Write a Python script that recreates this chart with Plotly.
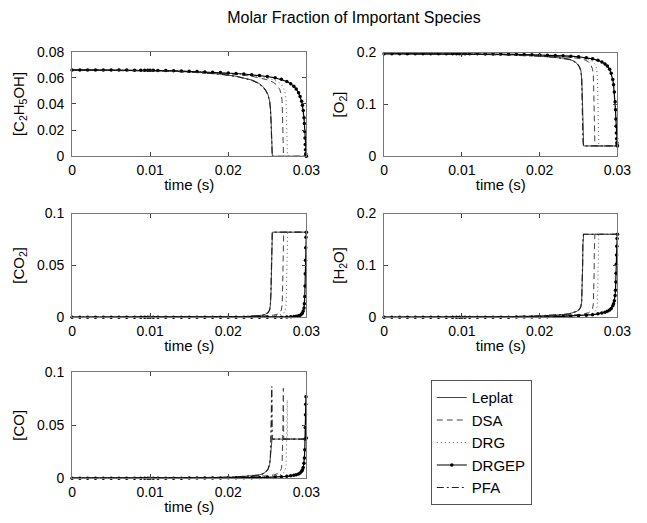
import plotly.graph_objects as go

# ---------------- data ----------------
mechanisms = ["Leplat", "DSA", "DRG", "DRGEP", "PFA"]

t_leplat = [0, 0.004, 0.008, 0.012, 0.016, 0.019, 0.021, 0.022, 0.023, 0.0238, 0.0244, 0.0248,
            0.0251, 0.0253, 0.0254, 0.02548, 0.02553, 0.02556, 0.0256, 0.02565, 0.03]
c2h5oh_leplat = [0.066, 0.0659, 0.0657, 0.0652, 0.0642, 0.0628, 0.0612, 0.0600, 0.0583, 0.0562, 0.0535, 0.0505,
                 0.0470, 0.0420, 0.0370, 0.0280, 0.0150, 0.005, 0.0, 0.0, 0.0]
o2_leplat = [0.198, 0.1978, 0.1975, 0.197, 0.1958, 0.1943, 0.1925, 0.1912, 0.1893, 0.187, 0.1835, 0.179,
             0.173, 0.165, 0.15, 0.12, 0.07, 0.035, 0.02, 0.02, 0.02]
co2_leplat = [0, 0, 0, 0.0001, 0.0002, 0.0003, 0.0005, 0.0007, 0.001, 0.0014, 0.002, 0.003,
              0.0045, 0.007, 0.012, 0.025, 0.05, 0.072, 0.082, 0.082, 0.082]
h2o_leplat = [0, 0.0001, 0.0003, 0.0006, 0.0012, 0.002, 0.003, 0.0038, 0.005, 0.0065, 0.0088, 0.0115,
              0.015, 0.02, 0.03, 0.055, 0.1, 0.14, 0.16, 0.16, 0.16]
co_leplat = [0, 0, 0.0001, 0.0002, 0.0004, 0.0007, 0.0011, 0.0015, 0.002, 0.0028, 0.004, 0.0058,
             0.0085, 0.013, 0.02, 0.03, 0.036, 0.037, 0.037, 0.037, 0.037]

t_pfa = [0, 0.004, 0.008, 0.012, 0.016, 0.019, 0.021, 0.022, 0.023, 0.0238, 0.0244, 0.0248,
         0.0251, 0.0253, 0.0254, 0.02547, 0.02552, 0.02555, 0.02558, 0.02563, 0.03]
c2h5oh_pfa = [0.066, 0.0659, 0.0657, 0.0652, 0.0641, 0.0627, 0.0611, 0.0599, 0.0582, 0.0560, 0.0533, 0.0503,
              0.0468, 0.0418, 0.0365, 0.0275, 0.0145, 0.005, 0.0, 0.0, 0.0]
o2_pfa = [0.198, 0.1978, 0.1975, 0.197, 0.1957, 0.1942, 0.1924, 0.1911, 0.1892, 0.1868, 0.1833, 0.1788,
          0.1728, 0.1648, 0.149, 0.118, 0.068, 0.034, 0.02, 0.02, 0.02]
co2_pfa = [0, 0, 0, 0.0001, 0.0002, 0.0003, 0.0005, 0.0007, 0.001, 0.0014, 0.002, 0.003,
           0.0046, 0.0072, 0.0125, 0.026, 0.051, 0.073, 0.082, 0.082, 0.082]
h2o_pfa = [0, 0.0001, 0.0003, 0.0006, 0.0012, 0.002, 0.003, 0.0039, 0.0051, 0.0066, 0.009, 0.0117,
           0.0152, 0.0205, 0.031, 0.056, 0.102, 0.142, 0.16, 0.16, 0.16]
co_pfa = [0, 0, 0.0001, 0.0002, 0.0004, 0.0007, 0.0011, 0.0015, 0.002, 0.0028, 0.004, 0.0058,
          0.0086, 0.0132, 0.021, 0.036, 0.061, 0.081, 0.087, 0.037, 0.037]

t_dsa = [0, 0.004, 0.008, 0.012, 0.016, 0.019, 0.021, 0.023, 0.024, 0.025, 0.0258, 0.0263, 0.0266,
         0.0268, 0.0269, 0.02695, 0.027, 0.02703, 0.02706, 0.0271, 0.03]
c2h5oh_dsa = [0.066, 0.0659, 0.0658, 0.0654, 0.0646, 0.0636, 0.0626, 0.0612, 0.0600, 0.0585, 0.0565, 0.0540,
              0.0510, 0.0470, 0.042, 0.035, 0.025, 0.012, 0.004, 0.0, 0.0]
o2_dsa = [0.198, 0.1978, 0.1976, 0.1972, 0.1963, 0.1952, 0.1940, 0.1922, 0.1908, 0.189, 0.186, 0.182,
          0.176, 0.168, 0.155, 0.13, 0.09, 0.045, 0.025, 0.02, 0.02]
co2_dsa = [0, 0, 0, 0.0001, 0.0002, 0.0003, 0.0004, 0.0007, 0.001, 0.0014, 0.002, 0.003, 0.0045,
           0.007, 0.012, 0.025, 0.05, 0.072, 0.08, 0.082, 0.082]
h2o_dsa = [0, 0.0001, 0.0002, 0.0005, 0.001, 0.0016, 0.0022, 0.0032, 0.004, 0.0052, 0.0068, 0.0088,
           0.012, 0.017, 0.026, 0.045, 0.085, 0.13, 0.155, 0.16, 0.16]
co_dsa = [0, 0, 0.0001, 0.0002, 0.0003, 0.0005, 0.0008, 0.0012, 0.0016, 0.0022, 0.003, 0.0042,
          0.006, 0.009, 0.014, 0.025, 0.05, 0.075, 0.085, 0.037, 0.037]

t_drg = [0, 0.004, 0.008, 0.012, 0.016, 0.019, 0.021, 0.023, 0.0245, 0.0255, 0.0263, 0.0268, 0.0271,
         0.0273, 0.0274, 0.02745, 0.0275, 0.02753, 0.02756, 0.0276, 0.03]
c2h5oh_drg = [0.066, 0.0659, 0.0658, 0.0655, 0.0648, 0.064, 0.0631, 0.0619, 0.0605, 0.059, 0.0572, 0.055,
              0.052, 0.048, 0.043, 0.036, 0.026, 0.013, 0.004, 0.0, 0.0]
o2_drg = [0.198, 0.1978, 0.1977, 0.1973, 0.1966, 0.1957, 0.1946, 0.193, 0.1912, 0.1895, 0.187, 0.183,
          0.178, 0.17, 0.158, 0.135, 0.095, 0.05, 0.026, 0.02, 0.02]
co2_drg = [0, 0, 0, 0.0001, 0.0002, 0.0003, 0.0004, 0.0006, 0.0009, 0.0012, 0.0018, 0.0027, 0.004,
           0.0065, 0.011, 0.024, 0.049, 0.071, 0.08, 0.082, 0.082]
h2o_drg = [0, 0.0001, 0.0002, 0.0004, 0.0008, 0.0013, 0.0018, 0.0026, 0.0036, 0.0046, 0.006, 0.0078,
           0.0105, 0.015, 0.023, 0.04, 0.08, 0.125, 0.152, 0.16, 0.16]
co_drg = [0, 0, 0.0001, 0.0002, 0.0003, 0.0004, 0.0007, 0.001, 0.0014, 0.0019, 0.0026, 0.0037,
          0.0052, 0.008, 0.012, 0.022, 0.044, 0.065, 0.074, 0.037, 0.037]

t_drgep = [0, 0.001, 0.002, 0.003, 0.004, 0.005, 0.006, 0.007, 0.008, 0.0088, 0.0093, 0.0097, 0.01,
           0.0104, 0.011, 0.012, 0.013, 0.014, 0.015, 0.016, 0.017, 0.018, 0.019, 0.02, 0.021, 0.022,
           0.023, 0.024, 0.025, 0.026, 0.0268, 0.0275, 0.028, 0.0284, 0.0287, 0.029, 0.0292, 0.0294,
           0.0295, 0.0296, 0.0297, 0.02975, 0.0298, 0.02983, 0.02986, 0.02989, 0.02992, 0.02995, 0.03]
c2h5oh_drgep = [0.066, 0.066, 0.066, 0.066, 0.066, 0.0659, 0.0659, 0.0659, 0.0658, 0.0658, 0.0658, 0.0657,
                0.0657, 0.0657, 0.0656, 0.0655, 0.0654, 0.0652, 0.0650, 0.0648, 0.0645, 0.0643, 0.0640,
                0.0637, 0.0633, 0.0629, 0.0624, 0.0618, 0.0610, 0.0600, 0.0588, 0.0572, 0.0555, 0.0535,
                0.0515, 0.0485, 0.0458, 0.0420, 0.0390, 0.0350, 0.0295, 0.0250, 0.0190, 0.0140, 0.0090,
                0.0050, 0.0020, 0.0005, 0.0]
o2_drgep = [0.198, 0.198, 0.198, 0.198, 0.198, 0.198, 0.198, 0.1979, 0.1979, 0.1979, 0.1979, 0.1978,
            0.1978, 0.1978, 0.1977, 0.1976, 0.1975, 0.1973, 0.1971, 0.1969, 0.1966, 0.1963, 0.1959,
            0.1955, 0.195, 0.1945, 0.1938, 0.193, 0.192, 0.190, 0.188, 0.185, 0.182, 0.178, 0.174,
            0.168, 0.160, 0.148, 0.138, 0.124, 0.105, 0.090, 0.072, 0.058, 0.045, 0.034, 0.026,
            0.022, 0.020]
co2_drgep = [0, 0, 0, 0, 0, 0, 0, 0, 0, 0, 0, 0, 0, 0, 0, 0, 0, 0, 0, 0, 0, 0, 0, 0, 0, 0, 0,
             0, 0, 0.0001, 0.0001, 0.0002, 0.0004, 0.0006, 0.0009, 0.0014, 0.002, 0.003, 0.004,
             0.006, 0.009, 0.013, 0.02, 0.03, 0.042, 0.055, 0.067, 0.077, 0.082]
h2o_drgep = [0, 0, 0, 0, 0, 0, 0, 0, 0, 0, 0, 0, 0, 0, 0, 0.0001, 0.0001, 0.0001, 0.0002, 0.0002,
             0.0003, 0.0003, 0.0004, 0.0005, 0.0008, 0.0012, 0.0017, 0.0023, 0.003, 0.004, 0.005,
             0.0065, 0.008, 0.0098, 0.0115, 0.014, 0.017, 0.022, 0.026, 0.032, 0.042, 0.052, 0.068,
             0.085, 0.102, 0.12, 0.137, 0.152, 0.16]
co_drgep = [0, 0, 0, 0, 0, 0, 0, 0, 0, 0, 0, 0, 0, 0, 0, 0, 0, 0, 0.0001, 0.0001, 0.0001, 0.0002,
            0.0002, 0.0003, 0.0003, 0.0004, 0.0005, 0.0006, 0.0008, 0.001, 0.0013, 0.0017, 0.0022,
            0.0027, 0.0033, 0.004, 0.005, 0.0065, 0.008, 0.01, 0.014, 0.019, 0.027, 0.037, 0.048,
            0.060, 0.070, 0.077, 0.038]

species_titles = ["[C<sub>2</sub>H<sub>5</sub>OH]", "[O<sub>2</sub>]", "[CO<sub>2</sub>]",
                  "[H<sub>2</sub>O]", "[CO]"]
y_ranges = [[0, 0.08], [0, 0.2], [0, 0.1], [0, 0.2], [0, 0.1]]
y_ticks = [[0, 0.02, 0.04, 0.06, 0.08], [0, 0.1, 0.2], [0, 0.05, 0.1], [0, 0.1, 0.2], [0, 0.05, 0.1]]
y_ticktext = [["0", "0.02", "0.04", "0.06", "0.08"], ["0", "0.1", "0.2"], ["0", "0.05", "0.1"],
              ["0", "0.1", "0.2"], ["0", "0.05", "0.1"]]
x_ticks = [0, 0.01, 0.02, 0.03]
x_ticktext = ["0", "0.01", "0.02", "0.03"]

times = {"Leplat": t_leplat, "DSA": t_dsa, "DRG": t_drg, "DRGEP": t_drgep, "PFA": t_pfa}
values = {
    "Leplat": [c2h5oh_leplat, o2_leplat, co2_leplat, h2o_leplat, co_leplat],
    "DSA": [c2h5oh_dsa, o2_dsa, co2_dsa, h2o_dsa, co_dsa],
    "DRG": [c2h5oh_drg, o2_drg, co2_drg, h2o_drg, co_drg],
    "DRGEP": [c2h5oh_drgep, o2_drgep, co2_drgep, h2o_drgep, co_drgep],
    "PFA": [c2h5oh_pfa, o2_pfa, co2_pfa, h2o_pfa, co_pfa],
}

# ---------------- styles ----------------
styles = {
    "Leplat": dict(line=dict(color="#444444", width=1, dash="solid"), mode="lines"),
    "DSA": dict(line=dict(color="#444444", width=1, dash="6px,4px"), mode="lines"),
    "DRG": dict(line=dict(color="#666666", width=1, dash="1px,3px"), mode="lines"),
    "DRGEP": dict(line=dict(color="#000000", width=1.2, dash="solid"), mode="lines+markers",
                  marker=dict(symbol="circle", size=3.5, color="#000000")),
    "PFA": dict(line=dict(color="#222222", width=1.2, dash="7px,3px,2px,3px"), mode="lines"),
}

FONT = "Liberation Sans, Arial, sans-serif"
W, H = 647, 523
# pixel boxes (left, right, top, bottom)
boxes = [(70, 311, 45, 153), (391, 631, 46, 153), (70, 311, 212, 319),
         (391, 631, 212, 319), (70, 311, 376, 485)]

fig = go.Figure()
for k in range(5):
    sfx = "" if k == 0 else str(k + 1)
    for m in mechanisms:
        st = styles[m]
        tr = go.Scatter(x=times[m], y=values[m][k], name=m, legendgroup=m,
                        showlegend=(k == 0), xaxis="x" + sfx, yaxis="y" + sfx,
                        mode=st["mode"], line=st["line"], cliponaxis=False)
        if "marker" in st:
            tr.marker = st["marker"]
        fig.add_trace(tr)

layout = {}
for k, (l, r, t, b) in enumerate(boxes):
    sfx = "" if k == 0 else str(k + 1)
    layout["xaxis" + sfx] = dict(
        domain=[l / W, r / W], anchor="y" + sfx, range=[0, 0.03],
        tickvals=x_ticks, ticktext=x_ticktext, ticks="inside", ticklen=4,
        tickcolor="#444", mirror="allticks", showline=True, linecolor="#777", linewidth=1,
        showgrid=False, zeroline=False, ticklabelstandoff=1,
        title=dict(text="time (s)", font=dict(size=15, family=FONT, color="black"), standoff=2),
        tickfont=dict(size=14, family=FONT, color="black"))
    layout["yaxis" + sfx] = dict(
        domain=[1 - b / H, 1 - t / H], anchor="x" + sfx, range=y_ranges[k],
        tickvals=y_ticks[k], ticktext=y_ticktext[k], ticks="inside", ticklen=4,
        tickcolor="#444", mirror="allticks", showline=True, linecolor="#777", linewidth=1,
        showgrid=False, zeroline=False, ticklabelstandoff=4,
        title=dict(text=species_titles[k], font=dict(size=15, family=FONT, color="black"), standoff=8),
        tickfont=dict(size=14, family=FONT, color="black"))

fig.update_layout(**layout)
fig.update_layout(
    width=W, height=H, margin=dict(l=0, r=0, t=0, b=0),
    paper_bgcolor="white", plot_bgcolor="white",
    font=dict(family=FONT, size=14, color="black"),
    title=dict(text="Molar Fraction of Important Species", x=354 / W, xanchor="center",
               y=1 - 17 / H, yanchor="middle", font=dict(size=16, family=FONT, color="black")),
    legend=dict(x=439 / W, y=1 - 384 / H, xanchor="left", yanchor="top",
                bordercolor="#555", borderwidth=1, bgcolor="white",
                font=dict(size=15, family=FONT, color="black"), tracegroupgap=0,
                itemwidth=30),
)

fig.write_html("out.html")
